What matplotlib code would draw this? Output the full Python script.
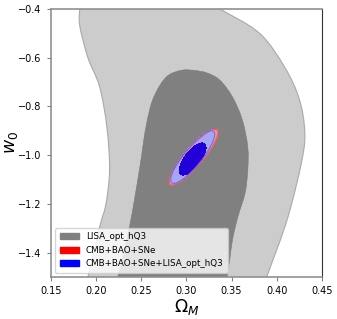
import numpy as np
import matplotlib.pyplot as plt
from matplotlib.patches import Patch, PathPatch
from matplotlib.path import Path

# LISA_opt_hQ3 95% contour (Omega_M, w0)
lisa2_left_om = [0.183, 0.182, 0.182, 0.191, 0.204, 0.212, 0.215, 0.211, 0.204, 0.191, 0.186]
lisa2_left_w = [-0.36, -0.40, -0.47, -0.60, -0.72, -0.885, -1.06, -1.20, -1.295, -1.50, -1.55]
lisa2_right_om = [0.385, 0.389, 0.412, 0.428, 0.431, 0.425, 0.409, 0.381, 0.337, 0.322]
lisa2_right_w = [-1.55, -1.50, -1.26, -1.02, -0.90, -0.77, -0.64, -0.50, -0.40, -0.37]

# LISA_opt_hQ3 68% contour
lisa1_om = [0.221, 0.224, 0.237, 0.248, 0.252, 0.256, 0.262, 0.271, 0.281, 0.296,
            0.310, 0.323, 0.337, 0.351, 0.362, 0.368, 0.368, 0.365, 0.357, 0.351,
            0.348, 0.345, 0.344]
lisa1_w = [-1.55, -1.50, -1.295, -1.061, -0.960, -0.870, -0.780, -0.712, -0.670, -0.651,
           -0.653, -0.663, -0.692, -0.761, -0.856, -0.967, -1.061, -1.156, -1.254, -1.349,
           -1.431, -1.50, -1.55]

# эллипсы: центр Om, центр w0, полуширина по Om, полувысота по w0, корреляция
cmb_95 = [0.308, -1.0085, 0.0270, 0.1145, 0.88]
cmb_68 = [0.308, -1.0085, 0.0165, 0.0700, 0.80]
comb_95 = [0.307, -1.008, 0.0243, 0.1080, 0.86]
comb_68 = [0.307, -1.016, 0.0148, 0.0660, 0.70]

labels = ['LISA_opt_hQ3', 'CMB+BAO+SNe', 'CMB+BAO+SNe+LISA_opt_hQ3']


def smooth(xs, ys):
    # Катмулл-Ром -> кубические Безье
    p = np.column_stack([xs, ys])
    p = np.vstack([p[0], p, p[-1]])
    verts = [p[1]]
    for i in range(1, len(p) - 2):
        c1 = p[i] + (p[i + 1] - p[i - 1]) / 6
        c2 = p[i + 1] - (p[i + 2] - p[i]) / 6
        verts += [c1, c2, p[i + 1]]
    return verts


def region(ax, xs, ys, **kw):
    v = smooth(xs, ys)
    codes = [Path.MOVETO] + [Path.CURVE4] * (len(v) - 1)
    v.append(v[0])
    codes.append(Path.CLOSEPOLY)
    ax.add_patch(PathPatch(Path(v, codes), **kw))


fig = plt.figure(figsize=(3.37, 3.19), dpi=100)
ax = fig.add_axes([0.151, 0.132, 0.804, 0.840])

# внешний контур: левая и правая ветви
vl = smooth(lisa2_left_om, lisa2_left_w)
vr = smooth(lisa2_right_om, lisa2_right_w)
verts = vl + [vr[0]] + vr[1:] + [vl[0]]
codes = ([Path.MOVETO] + [Path.CURVE4] * (len(vl) - 1) + [Path.LINETO]
         + [Path.CURVE4] * (len(vr) - 1) + [Path.CLOSEPOLY])
ax.add_patch(PathPatch(Path(verts, codes), facecolor='#cccccc',
                       edgecolor='#a9a9a9', lw=0.8))
region(ax, lisa1_om, lisa1_w, facecolor='#808080', edgecolor='#7a7a7a', lw=0.4)

om = np.linspace(0.24, 0.38, 500)
w = np.linspace(-1.3, -0.7, 500)
OM, W = np.meshgrid(om, w)


def q(p):
    m1, m2, s1, s2, r = p
    a = (OM - m1) / s1
    b = (W - m2) / s2
    return (a * a - 2 * r * a * b + b * b) / (1 - r * r)


ax.contourf(OM, W, q(cmb_95), levels=[0, 1], colors=['#f29292'])
ax.contour(OM, W, q(cmb_95), levels=[1], colors=['#f05a5a'], linewidths=0.9)
ax.contourf(OM, W, q(cmb_68), levels=[0, 1], colors=['#ee2a2a'])

ax.contourf(OM, W, q(comb_95), levels=[0, 1], colors=['#a6a6f4'])
ax.contour(OM, W, q(comb_95), levels=[1], colors=['#6868f0'], linewidths=0.7)
ax.contourf(OM, W, q(comb_68), levels=[0, 1], colors=['#2200d8'])

ax.set_xlim(0.15, 0.45)
ax.set_ylim(-1.5, -0.4)
ax.set_xticks(np.arange(0.15, 0.451, 0.05))
ax.set_yticks(np.arange(-1.4, -0.39, 0.2))
ax.tick_params(labelsize=7, length=3, color='#808080')
for s in ['left', 'top', 'bottom']:
    ax.spines[s].set_color('#909090')
    ax.spines[s].set_linewidth(1.2)
ax.spines['right'].set_color('#333333')
ax.set_xlabel(r'$\Omega_M$', fontsize=12.5, labelpad=1)
ax.set_ylabel(r'$w_0$', fontsize=12.5)
ax.yaxis.set_label_coords(-0.113, 0.5)

handles = [Patch(color='gray'), Patch(color='red'), Patch(color='blue')]
ax.legend(handles, labels, loc='lower left', fontsize=6.3, borderaxespad=0.5,
          labelspacing=0.5, handlelength=2.2, borderpad=0.5, framealpha=0.8)

fig.savefig('out.png', dpi=100)
